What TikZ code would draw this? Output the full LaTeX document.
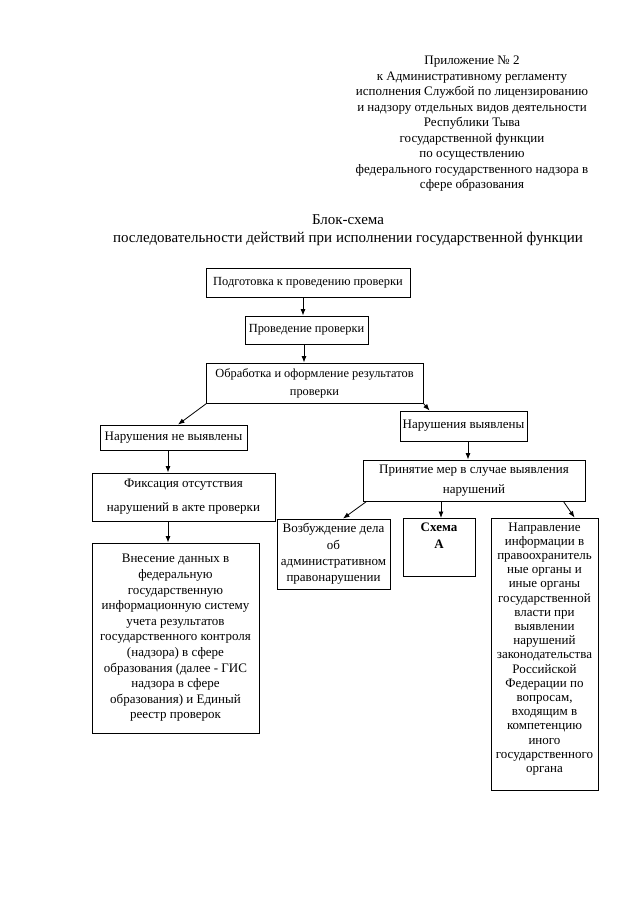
\documentclass[tikz,border=0pt]{standalone}
\usepackage{fontspec}
\setmainfont{Liberation Serif}
\usetikzlibrary{arrows.meta}
\begin{document}
\begin{tikzpicture}[x=1pt,y=-1pt,
 box/.style={draw,line width=0.9pt,align=center,inner sep=1pt,font=\fontsize{13}{16}\selectfont},
 small/.style={font=\fontsize{12.4}{16}\selectfont},
 plain/.style={align=center,inner sep=0pt},
 arr/.style={line width=0.8pt,-{Latex[length=6.5pt,width=5pt]}}]
\fill[white] (0,0) rectangle (640,905);
\useasboundingbox (0,0) rectangle (640,905);

\node[plain,font=\fontsize{13}{15.5}\selectfont] (hdr) at (472,124) {Приложение № 2\\
к Административному регламенту\\
исполнения Службой по лицензированию\\
и надзору отдельных видов деятельности\\
Республики Тыва\\
государственной функции\\
по осуществлению\\
федерального государственного надзора в\\
сфере образования};

\node[plain,font=\fontsize{15}{18}\selectfont] (title) at (348,230) {Блок-схема\\
последовательности действий при исполнении государственной функции};

\node[box,small,minimum width=204pt,minimum height=29pt] (b1) at (308,282.5) {Подготовка к проведению проверки};
\node[box,small,minimum width=123pt,minimum height=28pt] (b2) at (306.5,330) {Проведение проверки};
\node[box,small,minimum width=217pt,minimum height=40pt] (b3) at (314.5,383) {Обработка и оформление результатов\\[2pt] проверки};
\node[box,minimum width=147pt,minimum height=25pt] (nnv) at (173.5,437.5) {Нарушения не выявлены};
\node[box,minimum width=127pt,minimum height=30pt] (nv) at (463.5,426) {Нарушения выявлены};
\node[box,minimum width=183pt,minimum height=48pt] (fix) at (183.5,497) {Фиксация отсутствия\\[8pt] нарушений в акте проверки};
\node[box,minimum width=167pt,minimum height=190pt,font=\fontsize{13}{15.6}\selectfont] (vnes) at (175.5,638) {Внесение данных в\\
федеральную\\
государственную\\
информационную систему\\
учета результатов\\
государственного контроля\\
(надзора) в сфере\\
образования (далее - ГИС\\
надзора в сфере\\
образования) и Единый\\
реестр проверок};
\node[box,minimum width=222pt,minimum height=41pt] (prin) at (474,480.5) {Принятие мер в случае выявления\\[4pt] нарушений};
\node[box,minimum width=113pt,minimum height=70pt,font=\fontsize{13}{16.3}\selectfont] (vozb) at (333.5,554) {Возбуждение дела\\ об\\ административном\\ правонарушении};
\node[box,minimum width=72pt,minimum height=52pt,anchor=north,font=\fontsize{13}{17}\selectfont\bfseries,text depth=24pt,inner sep=4pt] (sx) at (439,518) {Схема\\ А};
\node[box,minimum width=107pt,minimum height=272pt,text depth=13pt,font=\fontsize{13}{14.2}\selectfont] (napr) at (544.5,654) {Направление\\
информации в\\
правоохранитель\\
ные органы и\\
иные органы\\
государственной\\
власти при\\
выявлении\\
нарушений\\
законодательства\\
Российской\\
Федерации по\\
вопросам,\\
входящим в\\
компетенцию\\
иного\\
государственного\\
органа};

\draw[arr] ([xshift=-5pt]b1.south) -- ([xshift=-5pt]b1.south |- b2.north);
\draw[arr] ([xshift=-2.5pt]b2.south) -- ([xshift=-2.5pt]b2.south |- b3.north);
\draw[arr] ([xshift=1pt]b3.south west) -- ([xshift=4.5pt]nnv.north);
\draw[arr] (b3.south east) -- ([xshift=30pt]nv.north west);
\draw[arr] ([xshift=-5.5pt]nnv.south) -- ([xshift=-5.5pt]nnv.south |- fix.north);
\draw[arr] ([xshift=-15.5pt]fix.south) -- ([xshift=-15.5pt]fix.south |- vnes.north);
\draw[arr] ([xshift=4.5pt]nv.south) -- ([xshift=4.5pt]nv.south |- prin.north);
\draw[arr] ([xshift=4pt]prin.south west) -- ([xshift=9.5pt]vozb.north);
\draw[arr] ([xshift=2pt]sx.north |- prin.south) -- ([xshift=2pt]sx.north);
\draw[arr] ([xshift=-22pt]prin.south east) -- ([xshift=84pt]napr.north west);
\end{tikzpicture}
\end{document}
